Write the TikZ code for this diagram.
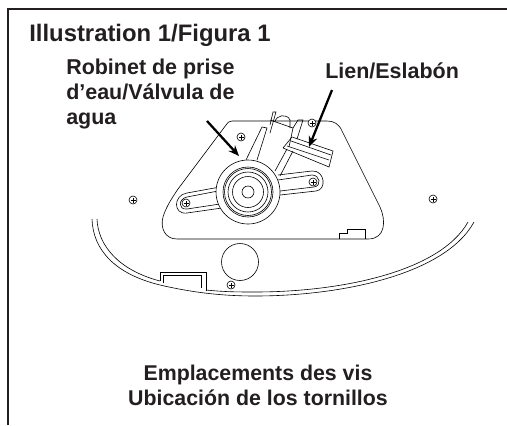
\documentclass[tikz,border=0pt]{standalone}
\usepackage{xcolor}
\usepackage{fontspec}
\setmainfont{Liberation Sans}
\definecolor{inkcol}{HTML}{231F20}
\usetikzlibrary{arrows.meta}
\tikzset{
  part/.style={line width=0.45pt,draw=black},
  screwhead/.pic={
    \draw[part,fill=white] (0,0) circle (4);
    \draw[part] (-2.5,0) -- (2.5,0) (0,-2.5) -- (0,2.5);
  },
  pointer/.style={line width=1.7pt,-{Stealth[length=8pt,width=6.5pt]}},
  lbl/.style={inner sep=0.75pt,font=\bfseries,text=inkcol}
}
\begin{document}
\begin{tikzpicture}[x=0.75pt,y=0.75pt,yscale=-1,xscale=1]
\useasboundingbox (0,0) rectangle (507,425);

% frame
\draw [line width=1.6pt,draw=inkcol] (8,425) -- (8,9) -- (507,9) ;

% bowl
\draw [part] (92,219) .. controls (93,250) and (115,274) .. (160,285) .. controls (190,292) and (220,296) .. (255,296) .. controls (340,296) and (445,275) .. (474,222) ;
\draw [part] (97,219) .. controls (98,245) and (118,270) .. (160,281) ;
\draw [part] (206,290) .. controls (225,292) and (240,292) .. (255,292) .. controls (340,292) and (440,272) .. (468,222) ;
\draw [part] (160,281) -- (160,272) -- (206,272) -- (206,291) ;
\draw [part] (163,283) -- (163,275) -- (201,275) -- (201,288) ;

% plate
\draw [part] (232,121) -- (327,121) .. controls (334,121) and (339,124) .. (342,131) -- (380,207) .. controls (386,220) and (386,239) .. (368,239) -- (177,239) .. controls (165,239) and (160,228) .. (163,217) .. controls (166,207) and (172,198) .. (178,189) -- (226,125) .. controls (228,122) and (230,121) .. (232,121) -- cycle ;
\draw [part] (339,239) -- (339,233) -- (347,233) -- (347,229) -- (365,229) -- (365,239) ;

% arms
\draw [part] (220,187) -- (187,193) .. controls (173,195) and (173,215) .. (187,213) -- (222,208) ;
\draw [part] (218,191) -- (187,197) .. controls (178,199) and (178,210) .. (187,209) -- (220,204) ;
\draw [part] (278,175) -- (312,171) .. controls (325,170) and (327,190) .. (316,191) -- (280,195) ;
\draw [part] (278,180) -- (312,175) .. controls (320,175) and (322,186) .. (314,187) -- (280,191) ;

% stem and link
\draw [part] (246,160) -- (262,127) -- (267,128) -- (257,160) ;
\draw [part] (270,125) -- (273,112) -- (276,112) -- (270,133) ;
\draw [part] (275,122) .. controls (276,115) and (287,113) .. (290,120) -- (290,128) ;
\draw [part] (270,120) -- (293,128) -- (298,120) -- (303,120) -- (297,139) ;
\draw [part] (293,128) -- (289,147) ;
\draw [part] (293,151) -- (280,176) ;
\draw [part] (287,149) -- (275,171) ;
\draw [part] (283,148) -- (292,137) -- (333,151) -- (329,167) -- (283,148) ;
\draw [part] (291,141) -- (331,155) ;
\draw [part] (287,146) -- (329,160) ;

% valve body
\draw [part,fill=white] (248,192) circle (32) ;
\draw [part] (248,192) circle (25) ;
\draw [part] (248,192) circle (23.5) ;
\draw [part] (248,192) circle (20) ;
\draw [part] (248,192) circle (15.5) ;
\draw [part] (248,192) circle (6) ;

% round cover
\draw [part] (240,262) circle (18.5) ;

% screws
\pic at (133,200) {screwhead};
\pic at (433,199) {screwhead};
\pic at (241,137) {screwhead};
\pic at (186,203) {screwhead};
\pic at (313,182) {screwhead};
\pic at (312,123) {screwhead};
\pic at (231,285) {screwhead};

% labels
\draw (28,41) node (title) [anchor=base west][lbl,font=\fontsize{17.9pt}{20pt}\bfseries] {Illustration 1/Figura 1};
\draw (65,124) node (valve) [anchor=base west][lbl,align=left,font=\fontsize{16.1pt}{18.4pt}\bfseries] {Robinet de prise\\d’eau/Válvula de\\agua};
\draw (324,78) node (link) [anchor=base west][lbl,font=\fontsize{16.1pt}{18pt}\bfseries] {Lien/Eslabón};
\draw (258,405) node (caption) [anchor=base][lbl,align=center,font=\fontsize{16pt}{18.75pt}\bfseries] {Emplacements des vis\\Ubicación de los tornillos};

% arrows
\coordinate (valvefrom) at (207,121);
\coordinate (valveto) at (239,156);
\coordinate (linkfrom) at (332,90);
\coordinate (linkto) at (309,147);
\draw [pointer] (valvefrom) -- (valveto) ;
\draw [pointer] (linkfrom) -- (linkto) ;

\end{tikzpicture}
\end{document}
